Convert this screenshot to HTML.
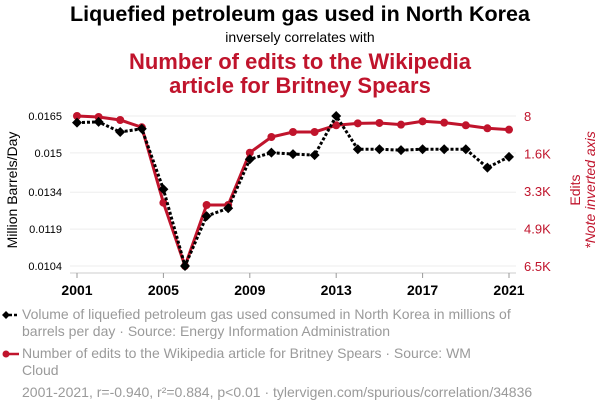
<!DOCTYPE html>
<html><head><meta charset="utf-8"><style>
body{margin:0;background:#fff;font-family:"Liberation Sans",sans-serif;}
#wrap{position:relative;width:600px;height:414px;overflow:hidden;}
.t{position:absolute;white-space:nowrap;}
</style></head><body>
<div id="wrap">
<div class="t" style="left:0;width:600px;text-align:center;top:2px;font-size:21.5px;font-weight:bold;color:#000;">Liquefied petroleum gas used in North Korea</div>
<div class="t" style="left:0;width:600px;text-align:center;top:29px;font-size:14px;color:#000;">inversely correlates with</div>
<div class="t" style="left:0;width:600px;text-align:center;top:50px;font-size:22px;line-height:24px;font-weight:bold;color:#c0142c;">Number of edits to the Wikipedia<br>article for Britney Spears</div>
<svg id="chart" width="600" height="414" style="position:absolute;left:0;top:0"></svg>
<div class="t" style="left:22px;top:306px;font-size:14px;line-height:17px;color:#9a9a9a;">Volume of liquefied petroleum gas used consumed in North Korea in millions of<br>barrels per day · Source: Energy Information Administration</div>
<div class="t" style="left:22px;top:345px;font-size:14px;line-height:17px;color:#9a9a9a;">Number of edits to the Wikipedia article for Britney Spears · Source: WM<br>Cloud</div>
<div class="t" style="left:22px;top:384px;font-size:14px;color:#9a9a9a;">2001-2021, r=-0.940, r²=0.884, p&lt;0.01 · tylervigen.com/spurious/correlation/34836</div>
</div>
<script>
const years=[2001,2002,2003,2004,2005,2006,2007,2008,2009,2010,2011,2012,2013,2014,2015,2016,2017,2018,2019,2020,2021];
const lpg=[0.01623,0.01626,0.01585,0.01598,0.01352,0.0104,0.01243,0.01275,0.01474,0.01501,0.01495,0.01491,0.0165,0.01515,0.01515,0.01511,0.01515,0.01515,0.01515,0.0144,0.01484];
const edits=[8,51,181,497,3760,6500,3860,3860,1596,917,700,700,410,325,310,382,238,296,410,540,600];
const leftTicks=[0.0165,0.015,0.0134,0.0119,0.0104];
const leftLabels=["0.0165","0.015","0.0134","0.0119","0.0104"];
const rightTicks=[8,1630,3250,4880,6500];
const rightLabels=["8","1.6K","3.3K","4.9K","6.5K"];
const xTicks=[2001,2005,2009,2013,2017,2021];
const svg=document.getElementById('chart');const NS='http://www.w3.org/2000/svg';
const X0=77,X1=509,YT=116,YB=266;
const x=v=>X0+(v-2001)/(2021-2001)*(X1-X0);
const yL=v=>YT+(0.0165-v)/(0.0165-0.0104)*(YB-YT);
const yR=v=>YT+(v-8)/(6500-8)*(YB-YT);
function el(t,a,p){const e=document.createElementNS(NS,t);for(const k in a)e.setAttribute(k,a[k]);(p||svg).appendChild(e);return e;}
leftTicks.forEach((v,i)=>{
 const g=el('line',{x1:70,x2:516,y1:yL(v),y2:yL(v),stroke:'#eee','stroke-width':1});
 
 const t=el('text',{x:62,y:yL(v)+4,'text-anchor':'end','font-size':11,fill:'#000'});t.textContent=leftLabels[i];
 
});
rightTicks.forEach((v,i)=>{
 const t=el('text',{x:524,y:yR(v)+5,'font-size':13,fill:'#c0142c'});t.textContent=rightLabels[i];
 
});
const ax=el('line',{x1:70,x2:516,y1:273,y2:273,stroke:'#ccc'});

xTicks.forEach(v=>{
 const tk=el('line',{x1:x(v),x2:x(v),y1:273,y2:278,stroke:'#999'});
 
 const t=el('text',{x:x(v),y:295,'text-anchor':'middle','font-size':14,'font-weight':'bold',fill:'#000'});t.textContent=v;
 
});
const yl=el('text',{transform:'translate(17,190) rotate(-90)','text-anchor':'middle','font-size':14,fill:'#000'});yl.textContent='Million Barrels/Day';

const yr=el('text',{transform:'translate(580,190) rotate(-90)','text-anchor':'middle','font-size':14,fill:'#c0142c'});yr.textContent='Edits';

const yr2=el('text',{transform:'translate(595,190) rotate(-90)','text-anchor':'middle','font-size':14,'font-style':'italic',fill:'#c0142c'});yr2.textContent='*Note inverted axis';

const rl=el('polyline',{points:years.map((v,i)=>x(v)+','+yR(edits[i])).join(' '),fill:'none',stroke:'#c0142c','stroke-width':3});

years.forEach((v,i)=>{const c=el('circle',{cx:x(v),cy:yR(edits[i]),r:4,fill:'#c0142c'});
 });
const bl=el('polyline',{points:years.map((v,i)=>x(v)+','+yL(lpg[i])).join(' '),fill:'none',stroke:'#000','stroke-width':3,'stroke-dasharray':'3,2'});

years.forEach((v,i)=>{const cx=x(v),cy=yL(lpg[i]);const d=el('polygon',{points:`${cx},${cy-5} ${cx+5},${cy} ${cx},${cy+5} ${cx-5},${cy}`,fill:'#000'});
 });
const lm1=el('line',{x1:4,x2:19,y1:315,y2:315,stroke:'#000','stroke-width':2.5,'stroke-dasharray':'3,2'});

el('polygon',{points:'6,311 10,315 6,319 2,315',fill:'#000'});
const lm2=el('line',{x1:4,x2:19,y1:354,y2:354,stroke:'#c0142c','stroke-width':2.5});

el('circle',{cx:6,cy:354,r:3.5,fill:'#c0142c'});
</script>
</body></html>
